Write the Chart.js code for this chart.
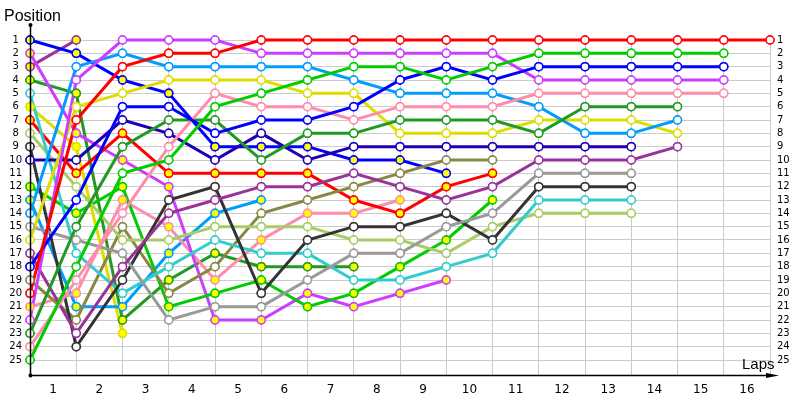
<!DOCTYPE html>
<html>
<head>
<meta charset="utf-8">
<title>Lap chart</title>
<script src="https://cdn.jsdelivr.net/npm/chart.js@4.4.1/dist/chart.umd.min.js"></script>
<style>
  html, body { margin: 0; padding: 0; background: #fff; }
</style>
</head>
<body>
<canvas id="lapChart" width="800" height="400"></canvas>
<script>
const lapLabels = ['1', '2', '3', '4', '5', '6', '7', '8', '9', '10', '11', '12', '13', '14', '15', '16'];
const positionLabels = [1, 2, 3, 4, 5, 6, 7, 8, 9, 10, 11, 12, 13, 14, 15, 16, 17, 18, 19, 20, 21, 22, 23, 24, 25];

// running position after each lap, first value = grid slot
const redA = [20, 7, 3, 2, 2, 1, 1, 1, 1, 1, 1, 1, 1, 1, 1, 1, 1];
const greenA = [25, 18, 11, 10, 6, 5, 4, 3, 3, 4, 3, 2, 2, 2, 2, 2];
const blueA = [18, 13, 6, 6, 8, 7, 7, 6, 4, 3, 4, 3, 3, 3, 3, 3];
const violetA = [22, 4, 1, 1, 1, 2, 2, 2, 2, 2, 2, 4, 4, 4, 4, 4];
const pinkA = [24, 19, 14, 9, 5, 6, 6, 7, 6, 6, 6, 5, 5, 5, 5, 5];
const dkgreenA = [23, 15, 9, 7, 7, 10, 8, 8, 7, 7, 7, 8, 6, 6, 6];
const lightblueA = [14, 3, 2, 3, 3, 3, 3, 4, 5, 5, 5, 6, 8, 8, 7];
const yellowA = [16, 6, 5, 4, 4, 4, 5, 5, 8, 8, 8, 7, 7, 7, 8];
const purpleA = [17, 23, 18, 14, 13, 12, 12, 11, 12, 13, 12, 10, 10, 10, 9];
const dkblue = [10, 10, 7, 8, 10, 8, 10, 9, 9, 9, 9, 9, 9, 9];
const grey = [15, 16, 17, 22, 21, 21, 19, 17, 17, 15, 14, 11, 11, 11];
const black = [9, 24, 19, 13, 12, 20, 16, 15, 15, 14, 16, 12, 12, 12];
const cyan = [5, 17, 20, 18, 16, 17, 17, 19, 19, 18, 17, 13, 13, 13];
const lightgreen = [8, 12, 16, 16, 15, 15, 15, 16, 16, 17, 15, 14, 14, 14];
const olive = [19, 22, 15, 20, 18, 14, 13, 12, 11, 10, 10];
const redB = [7, 11, 8, 11, 11, 11, 11, 13, 14, 12, 11];
const greenB = [12, 14, 12, 21, 20, 19, 21, 20, 18, 16, 13];
const blueB = [1, 2, 4, 5, 9, 9, 9, 10, 10, 11];
const violetB = [2, 8, 10, 12, 22, 22, 20, 21, 20, 19];
const pinkB = [21, 20, 13, 15, 19, 16, 14, 14, 13];
const dkgreenB = [4, 5, 22, 19, 17, 18, 18, 18];
const lightblueB = [13, 21, 21, 17, 14, 13];
const yellowB = [6, 9, 23];
const purpleB = [3, 1];

const drivers = [
    { laps: redA, color: '#ff0000', yellowDot: false },
    { laps: greenA, color: '#00cc00', yellowDot: false },
    { laps: blueA, color: '#0000ff', yellowDot: false },
    { laps: violetA, color: '#cc3dff', yellowDot: false },
    { laps: pinkA, color: '#ff8cab', yellowDot: false },
    { laps: dkgreenA, color: '#229922', yellowDot: false },
    { laps: lightblueA, color: '#009dff', yellowDot: false },
    { laps: yellowA, color: '#dddd00', yellowDot: false },
    { laps: purpleA, color: '#993399', yellowDot: false },
    { laps: dkblue, color: '#1e00b4', yellowDot: false },
    { laps: grey, color: '#999999', yellowDot: false },
    { laps: black, color: '#333333', yellowDot: false },
    { laps: cyan, color: '#33cccc', yellowDot: false },
    { laps: lightgreen, color: '#a8cc66', yellowDot: false },
    { laps: olive, color: '#888844', yellowDot: false },
    { laps: redB, color: '#ff0000', yellowDot: true },
    { laps: greenB, color: '#00cc00', yellowDot: true },
    { laps: blueB, color: '#0000ff', yellowDot: true },
    { laps: violetB, color: '#cc3dff', yellowDot: true },
    { laps: pinkB, color: '#ff8cab', yellowDot: true },
    { laps: dkgreenB, color: '#229922', yellowDot: true },
    { laps: lightblueB, color: '#009dff', yellowDot: true },
    { laps: yellowB, color: '#dddd00', yellowDot: true },
    { laps: purpleB, color: '#993399', yellowDot: true }
];

const datasets = drivers.map(d => ({
    data: d.laps.map((pos, lap) => ({ x: lap, y: pos })),
    borderColor: d.color,
    borderWidth: 3,
    pointBorderColor: d.color,
    pointBackgroundColor: d.yellowDot ? '#ffff00' : '#ffffff',
    pointRadius: 4,
    pointBorderWidth: 1.5,
    tension: 0,
    clip: false
}));

const xTicks = [{ value: 0 }];
lapLabels.forEach((l, i) => {
    xTicks.push({ value: i + 0.5 });
    xTicks.push({ value: i + 1 });
});

// markers always sit above the lines, plus the arrow axes and titles
const decor = {
    id: 'decor',
    afterDatasetsDraw(chart) {
        const ctx = chart.ctx;
        chart.getSortedVisibleDatasetMetas().forEach(meta => {
            meta.data.forEach(pt => pt.draw(ctx));
        });
    },
    afterDraw(chart) {
        const ctx = chart.ctx;
        const area = chart.chartArea;
        const x0 = Math.round(area.left) + 0.5;
        const y0 = Math.round(area.bottom) + 0.5;
        ctx.save();
        ctx.strokeStyle = '#000';
        ctx.fillStyle = '#000';
        ctx.lineWidth = 1.5;
        ctx.beginPath();
        ctx.moveTo(x0, 25);
        ctx.lineTo(x0, y0);
        ctx.lineTo(area.right + 2, y0);
        ctx.stroke();
        ctx.beginPath();
        ctx.moveTo(area.right + 9, y0);
        ctx.lineTo(area.right - 4, y0 - 2.5);
        ctx.lineTo(area.right - 4, y0 + 2.5);
        ctx.closePath();
        ctx.fill();
        ctx.beginPath();
        ctx.arc(x0, 25, 2, 0, Math.PI * 2);
        ctx.fill();
        ctx.beginPath();
        ctx.arc(x0, y0, 2, 0, Math.PI * 2);
        ctx.fill();
        ctx.font = '16px "Liberation Sans"';
        ctx.fillText('Position', 4, 21);
        ctx.font = '15px "Liberation Sans"';
        ctx.fillText('Laps', 742, 369);
        ctx.restore();
    }
};

const tickFont = { family: 'DejaVu Sans', size: 10 };

new Chart(document.getElementById('lapChart'), {
    type: 'line',
    data: { datasets: datasets },
    plugins: [decor],
    options: {
        responsive: false,
        animation: false,
        events: [],
        layout: { padding: { top: 40 } },
        plugins: { legend: { display: false }, tooltip: { enabled: false } },
        scales: {
            x: {
                type: 'linear',
                min: 0,
                max: 16,
                afterBuildTicks: s => { s.ticks = xTicks.slice(); },
                afterFit: s => { s.height = 25; },
                grid: {
                    color: c => Number.isInteger(c.tick.value) ? '#cbcbcb' : 'rgba(0,0,0,0)',
                    drawTicks: false
                },
                border: { display: false },
                ticks: {
                    autoSkip: false,
                    maxRotation: 0,
                    padding: 8,
                    color: '#000',
                    font: { family: 'DejaVu Sans', size: 12 },
                    callback: v => Number.isInteger(v) ? '' : lapLabels[v - 0.5]
                }
            },
            y: {
                type: 'linear',
                reverse: true,
                min: 1,
                max: 26.125,
                afterBuildTicks: s => { s.ticks = positionLabels.map(v => ({ value: v })); },
                afterFit: s => { s.width = 30; },
                grid: { color: '#cbcbcb', drawTicks: false },
                border: { display: false },
                ticks: { autoSkip: false, crossAlign: 'center', padding: 8, color: '#000', font: tickFont }
            },
            y2: {
                type: 'linear',
                position: 'right',
                reverse: true,
                min: 1,
                max: 26.125,
                afterBuildTicks: s => { s.ticks = positionLabels.map(v => ({ value: v })); },
                afterFit: s => { s.width = 30; },
                grid: { display: false, drawTicks: false },
                border: { display: false },
                ticks: { autoSkip: false, padding: 7, color: '#000', font: tickFont }
            }
        }
    }
});
</script>
</body>
</html>
